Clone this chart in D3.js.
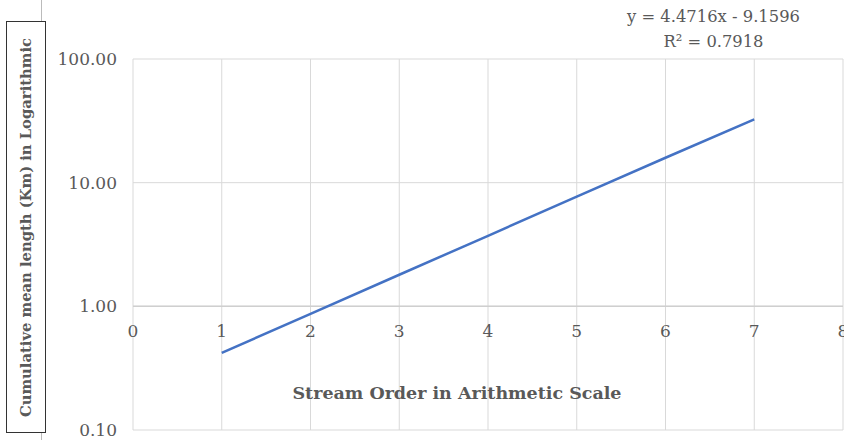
<!DOCTYPE html>
<html><head><meta charset="utf-8">
<script src="https://cdn.jsdelivr.net/npm/d3@7"></script>
<style>body{margin:0;background:#fff}svg{display:block}</style>
</head><body>
<svg id="c" width="844" height="440"></svg>
<script>
const streamOrder = [1, 2, 3, 4, 5, 6, 7];
const meanLength = [0.42, 0.87, 1.80, 3.72, 7.70, 15.9, 32.5];
const xTicks = [0, 1, 2, 3, 4, 5, 6, 7, 8];
const yTicks = [0.1, 1, 10, 100];
const equationLines = ["y = 4.4716x - 9.1596", "R\u00B2 = 0.7918"];
const xTitle = "Stream Order in Arithmetic Scale";
const yTitle = "Cumulative mean length (Km) in Logarithmic";

(function () {
const svg = d3.select("#c");
const pL = 133, pR = 843, pT = 59, pB = 430;
const x = d3.scaleLinear().domain([0, 8]).range([pL, pR]);
const y = d3.scaleLog().domain([0.1, 100]).range([pB, pT]);
const font = "'DejaVu Serif','Liberation Serif',serif";
const grey = "#595959";

svg.append("g").selectAll("line").data(xTicks).join("line")
  .attr("x1", d => x(d)).attr("x2", d => x(d)).attr("y1", pT).attr("y2", pB)
  .attr("stroke", "#d9d9d9").attr("stroke-width", 1);
svg.append("g").selectAll("line").data(yTicks).join("line")
  .attr("x1", pL).attr("x2", pR).attr("y1", d => y(d)).attr("y2", d => y(d))
  .attr("stroke", "#d9d9d9").attr("stroke-width", 1);
svg.append("line").attr("x1", pL).attr("x2", pR).attr("y1", y(1)).attr("y2", y(1))
  .attr("stroke", "#cfcfcf").attr("stroke-width", 1.5);

svg.append("g").selectAll("text").data(yTicks).join("text")
  .attr("x", 117).attr("y", d => y(d)).attr("dy", "0.35em")
  .attr("text-anchor", "end").attr("font-family", font).attr("font-size", 17)
  .attr("fill", grey).text(d => d3.format(".2f")(d));

svg.append("g").selectAll("text").data(xTicks).join("text")
  .attr("x", d => x(d)).attr("y", y(1) + 25).attr("dy", "0.35em")
  .attr("text-anchor", "middle").attr("font-family", font).attr("font-size", 17)
  .attr("fill", grey).text(d => d);

const line = d3.line().x((d, i) => x(streamOrder[i])).y(d => y(d));
svg.append("path").datum(meanLength).attr("d", line)
  .attr("fill", "none").attr("stroke", "#4472C4").attr("stroke-width", 2.5);

svg.append("text").attr("x", 457).attr("y", 393).attr("dy", "0.35em")
  .attr("text-anchor", "middle").attr("font-family", font).attr("font-size", 16)
  .attr("font-weight", "bold").attr("fill", grey)
  .attr("textLength", 329).attr("lengthAdjust", "spacingAndGlyphs").text(xTitle);

// boxed y title
svg.append("rect").attr("x", 6.5).attr("y", 21.5).attr("width", 39).attr("height", 411)
  .attr("fill", "none").attr("stroke", "#333").attr("stroke-width", 1);
svg.append("line").attr("x1", 41.5).attr("x2", 41.5).attr("y1", 0).attr("y2", 21)
  .attr("stroke", "#bbb").attr("stroke-width", 1);
svg.append("line").attr("x1", 41.5).attr("x2", 41.5).attr("y1", 433).attr("y2", 440)
  .attr("stroke", "#bbb").attr("stroke-width", 1);
svg.append("text").attr("transform", "translate(26,227.5) rotate(-90)").attr("dy", "0.35em")
  .attr("text-anchor", "middle").attr("font-family", font).attr("font-size", 15)
  .attr("font-weight", "bold").attr("fill", grey)
  .attr("textLength", 379).attr("lengthAdjust", "spacingAndGlyphs").text(yTitle);

const eqLen = [173, 100];
svg.append("g").selectAll("text").data(equationLines).join("text")
  .attr("x", 713.5).attr("y", (d, i) => 16 + i * 25).attr("dy", "0.35em")
  .attr("text-anchor", "middle").attr("font-family", font).attr("font-size", 17)
  .attr("fill", grey).attr("textLength", (d, i) => eqLen[i])
  .attr("lengthAdjust", "spacingAndGlyphs").text(d => d);
})();
</script>
</body></html>
